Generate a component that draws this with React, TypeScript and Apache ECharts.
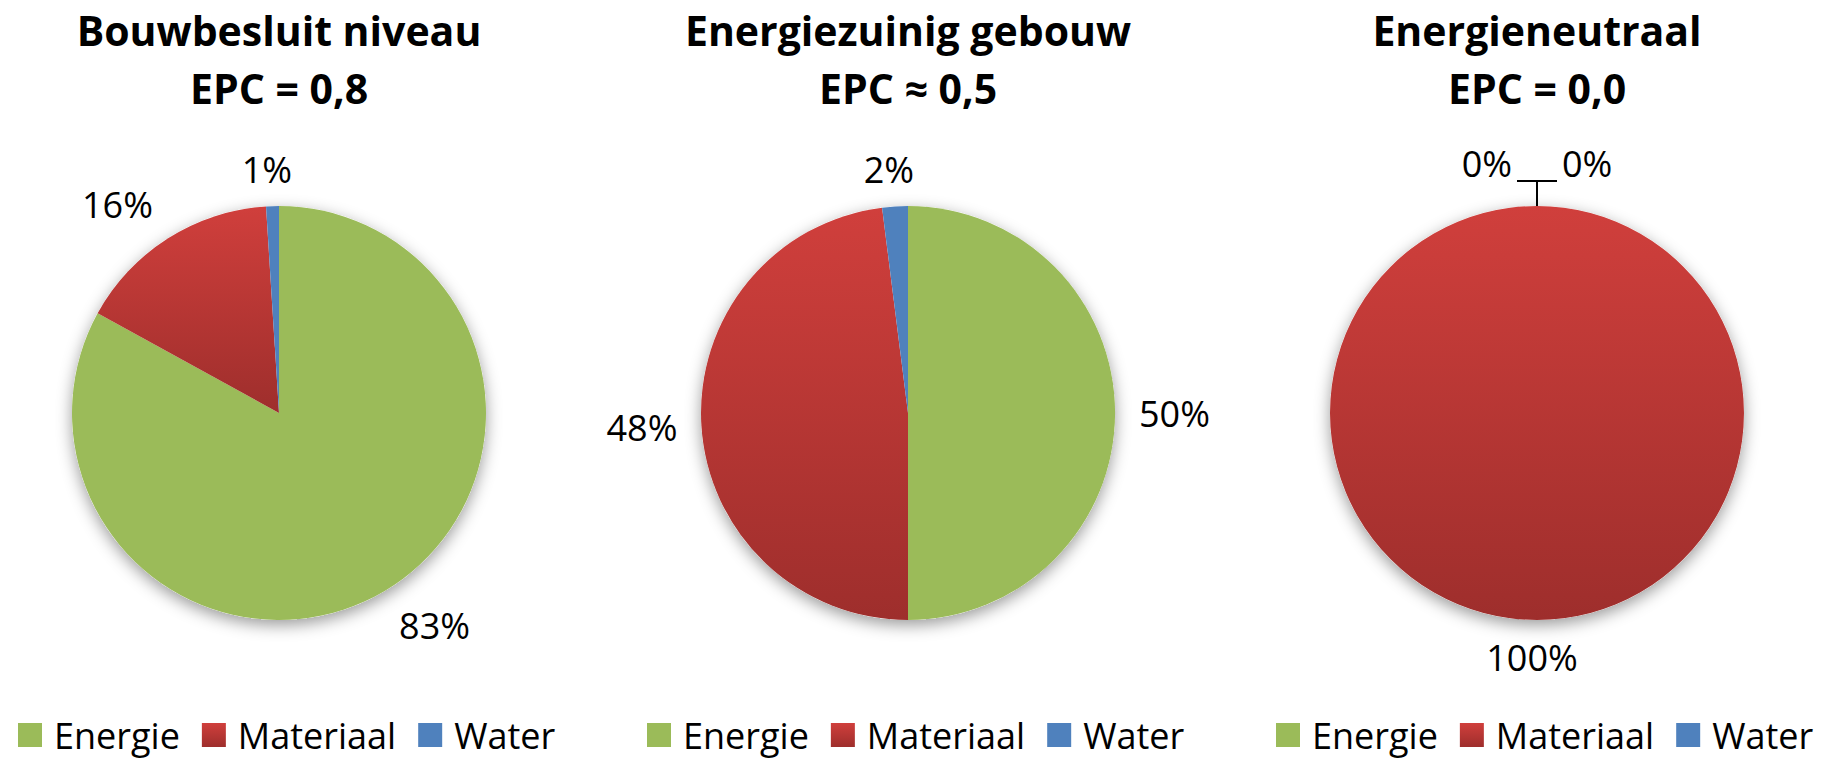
import React, { useEffect, useRef } from 'react';
import * as echarts from 'echarts';

const categories = ['Energie', 'Materiaal', 'Water'];
const chartTitles = [
  'Bouwbesluit niveau\nEPC = 0,8',
  'Energiezuinig gebouw\nEPC ≈ 0,5',
  'Energieneutraal\nEPC = 0,0',
];
const bouwbesluitValues = [83, 16, 1];
const energiezuinigValues = [50, 48, 2];
const energieneutraalValues = [0, 100, 0];

const allValues = [bouwbesluitValues, energiezuinigValues, energieneutraalValues];

const PIE_CX = [279, 908, 1537];
const PIE_CY = 413;
const PIE_R = 207;
const LEGEND_LEFT = [18, 647, 1276];
const FONT = '"Open Sans", "Noto Sans", sans-serif';

const GREEN = '#9BBB59';
const BLUE = '#4F81BD';
const RED = new echarts.graphic.LinearGradient(0, 0, 0, 1, [
  { offset: 0, color: '#D03F3C' },
  { offset: 1, color: '#9E2E2C' },
]);
const COLORS = [GREEN, RED, BLUE];

function makeLabelLayout(values: number[]) {
  const total = values.reduce((a, b) => a + b, 0);
  return (p: any) => {
    const i = p.dataIndex;
    const v = values[i];
    let cum = 0;
    for (let k = 0; k < i; k++) cum += values[k];
    const a = ((cum + v / 2) / total) * 2 * Math.PI;
    const dx = Math.sin(a);
    const dy = -Math.cos(a);
    if (v === 0) return { verticalAlign: 'bottom' };
    return {
      align: Math.abs(dx) < 0.2 ? 'center' : dx < 0 ? 'right' : 'left',
      verticalAlign: Math.abs(dy) < 0.3 ? 'middle' : dy < 0 ? 'bottom' : 'top',
    };
  };
}

export default function App() {
  const ref = useRef<HTMLDivElement>(null);

  useEffect(() => {
    document.body.style.margin = '0';
    if (!ref.current) return;
    const chart = echarts.init(ref.current, undefined, { renderer: 'svg' });

    const series: any[] = [];
    allValues.forEach((values, si) => {
      // soft shadow disc behind each pie
      series.push({
        type: 'pie',
        silent: true,
        center: [PIE_CX[si], PIE_CY],
        radius: PIE_R,
        label: { show: false },
        labelLine: { show: false },
        itemStyle: {
          color: '#ffffff',
          shadowBlur: 16,
          shadowOffsetY: 5,
          shadowColor: 'rgba(0,0,0,0.4)',
        },
        data: [{ value: 1, name: '' }],
        z: 1,
      });
      const isNeutral = si === 2;
      series.push({
        type: 'pie',
        center: [PIE_CX[si], PIE_CY],
        radius: PIE_R,
        startAngle: 90,
        clockwise: true,
        avoidLabelOverlap: false,
        z: 2,
        itemStyle: { borderWidth: 0 },
        emphasis: { disabled: true },
        label: {
          show: true,
          position: 'outside',
          color: '#000',
          fontFamily: FONT,
          fontSize: 36,
          distanceToLabelLine: 5,
          formatter: (p: any) => `${p.value}%`,
        },
        labelLine: {
          show: isNeutral,
          length: isNeutral ? 25 : 19,
          length2: isNeutral ? 20 : 0,
          lineStyle: { color: '#000', width: 1.8 },
        },
        labelLayout: makeLabelLayout(values),
        data: categories.map((name, i) => ({
          name,
          value: values[i],
          itemStyle: { color: COLORS[i] },
          ...(isNeutral && values[i] !== 0
            ? { labelLine: { show: false, length: 19, length2: 0 } }
            : {}),
        })),
      });
    });

    const option: any = {
      animation: false,
      backgroundColor: '#ffffff',
      legend: LEGEND_LEFT.map((left) => ({
        data: categories,
        left,
        top: 717,
        padding: 0,
        orient: 'horizontal',
        icon: 'rect',
        itemWidth: 24,
        itemHeight: 24,
        itemGap: 22,
        selectedMode: false,
        textStyle: {
          color: '#000',
          fontFamily: FONT,
          fontSize: 36,
          lineHeight: 34,
          padding: [0, 0, 0, 7],
        },
      })),
      graphic: chartTitles.map((text, i) => ({
        type: 'text',
        x: PIE_CX[i],
        y: 1,
        silent: true,
        style: {
          text,
          fill: '#000',
          fontFamily: FONT,
          fontWeight: 'bold',
          fontSize: 41,
          lineHeight: 58,
          align: 'center',
          verticalAlign: 'top',
        },
      })),
      series,
    };

    chart.setOption(option);
    return () => chart.dispose();
  }, []);

  return <div ref={ref} style={{ width: 1824, height: 758 }} />;
}
